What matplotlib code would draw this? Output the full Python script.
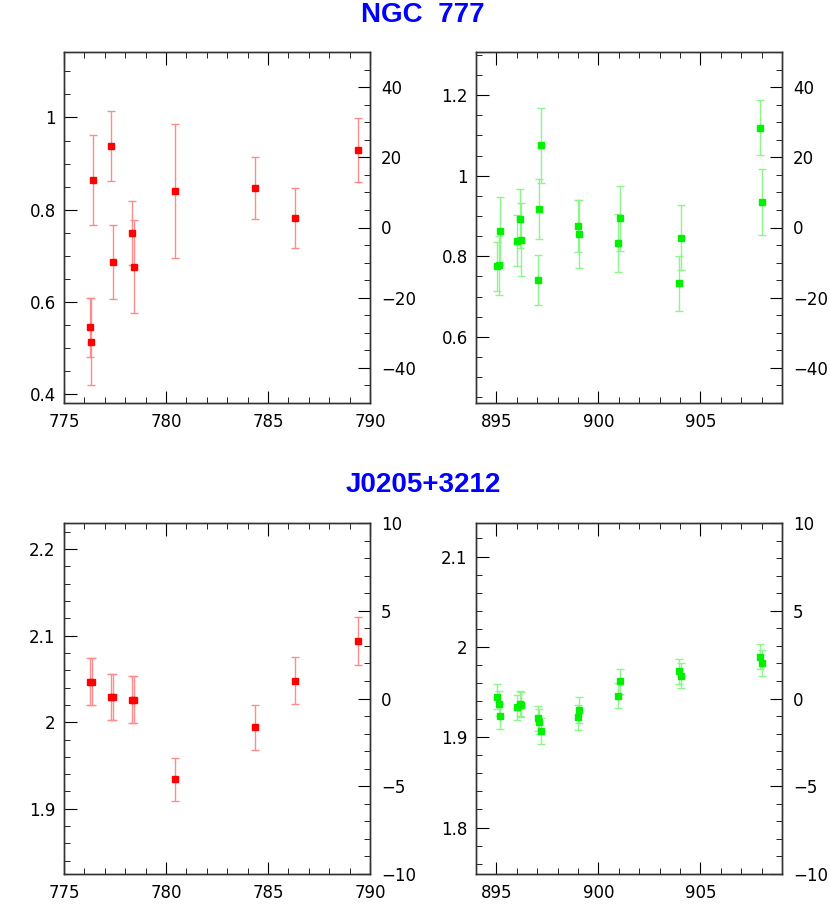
import numpy as np
import matplotlib
matplotlib.use("Agg")
import matplotlib.pyplot as plt
from matplotlib.ticker import MultipleLocator, FormatStrFormatter

plt.rcParams['font.family'] = ['DejaVu Sans']

# NGC 777, left (red) set
t_ngc_a = [776.26, 776.34, 776.41, 777.31, 777.38, 778.33, 778.41, 780.43, 784.34, 786.34, 789.39]
f_ngc_a = [0.545, 0.514, 0.864, 0.939, 0.687, 0.750, 0.676, 0.841, 0.847, 0.782, 0.930]
e_ngc_a = [0.064, 0.095, 0.097, 0.076, 0.080, 0.069, 0.101, 0.145, 0.068, 0.065, 0.069]

# NGC 777, right (green) set
t_ngc_b = [895.03, 895.11, 895.18, 896.03, 896.14, 896.19, 897.05, 897.10, 897.18,
           899.01, 899.07, 900.98, 901.06, 903.96, 904.06, 907.93, 908.03]
f_ngc_b = [0.775, 0.778, 0.863, 0.839, 0.893, 0.841, 0.740, 0.918, 1.076,
           0.875, 0.855, 0.834, 0.894, 0.733, 0.846, 1.119, 0.935]
e_ngc_b = [0.060, 0.073, 0.085, 0.063, 0.073, 0.090, 0.062, 0.075, 0.093,
           0.064, 0.085, 0.072, 0.080, 0.068, 0.081, 0.068, 0.081]

# J0205+3212, left (red) set
t_j_a = [776.26, 776.39, 777.31, 777.39, 778.34, 778.43, 780.43, 784.34, 786.34, 789.39]
f_j_a = [2.047, 2.047, 2.029, 2.029, 2.026, 2.026, 1.934, 1.994, 2.048, 2.094]
e_j_a = [0.027, 0.027, 0.027, 0.027, 0.027, 0.027, 0.025, 0.026, 0.027, 0.028]

# J0205+3212, right (green) set
t_j_b = t_ngc_b
f_j_b = [1.945, 1.937, 1.923, 1.933, 1.937, 1.936, 1.921, 1.917, 1.907,
         1.922, 1.930, 1.946, 1.962, 1.973, 1.968, 1.989, 1.982]
e_j_b = [0.014] * 17

titles = ["NGC  777", "J0205+3212"]

W, H = 830, 919
fig = plt.figure(figsize=(W / 100, H / 100), dpi=100)


def panel(px, py, t, f, e, col, ecol, xlim, xmaj, pct, pmaj, pmin, ymaj, ymin):
    ax = fig.add_axes([px / W, 1 - (py + 351) / H, 306 / W, 351 / H])
    mean = np.mean(f)
    ax.errorbar(t, f, yerr=e, fmt='s', color=col, ms=4.5, mec=col,
                ecolor=ecol, elinewidth=1, capsize=3, capthick=1)
    ax.set_xlim(*xlim)
    ax.set_ylim(mean * (1 - pct / 100), mean * (1 + pct / 100))
    ax.xaxis.set_major_locator(MultipleLocator(xmaj))
    ax.xaxis.set_minor_locator(MultipleLocator(1))
    ax.yaxis.set_major_locator(MultipleLocator(ymaj))
    ax.yaxis.set_minor_locator(MultipleLocator(ymin))
    ax.yaxis.set_major_formatter(FormatStrFormatter('%g'))
    ax.tick_params(which='both', direction='in', top=True, right=False, labelsize=12)
    ax.tick_params(which='major', length=9)
    ax.tick_params(which='minor', length=4.5)
    ax.tick_params(axis='x', pad=7)
    ax.tick_params(axis='y', pad=6)
    ax2 = ax.twinx()
    ax2.set_ylim(-pct, pct)
    ax2.yaxis.set_major_locator(MultipleLocator(pmaj))
    ax2.yaxis.set_minor_locator(MultipleLocator(pmin))
    ax2.tick_params(which='both', direction='in', labelsize=12, pad=8)
    ax2.tick_params(which='major', length=9)
    ax2.tick_params(which='minor', length=4.5)
    for a in (ax, ax2):
        for s in a.spines.values():
            s.set_linewidth(1.0)
            s.set_color('#333333')
    return ax


red, lred = '#ff0000', '#ff8c8c'
grn, lgrn = '#00f000', '#8cf58c'

panel(64, 52, t_ngc_a, f_ngc_a, e_ngc_a, red, lred, (775, 790), 5, 50, 20, 5, 0.2, 0.05)
panel(476, 52, t_ngc_b, f_ngc_b, e_ngc_b, grn, lgrn, (894, 909), 5, 50, 20, 5, 0.2, 0.05)
panel(64, 523, t_j_a, f_j_a, e_j_a, red, lred, (775, 790), 5, 10, 5, 1, 0.1, 0.02)
panel(476, 523, t_j_b, f_j_b, e_j_b, grn, lgrn, (894, 909), 5, 10, 5, 1, 0.1, 0.02)

for i, yy in enumerate((15, 485)):
    fig.text(423 / W, 1 - yy / H, titles[i], color='#0000ff', fontsize=20,
             fontweight='bold', ha='center', va='center',
             family=['Liberation Sans', 'DejaVu Sans'])

fig.savefig("out.png", dpi=100)
